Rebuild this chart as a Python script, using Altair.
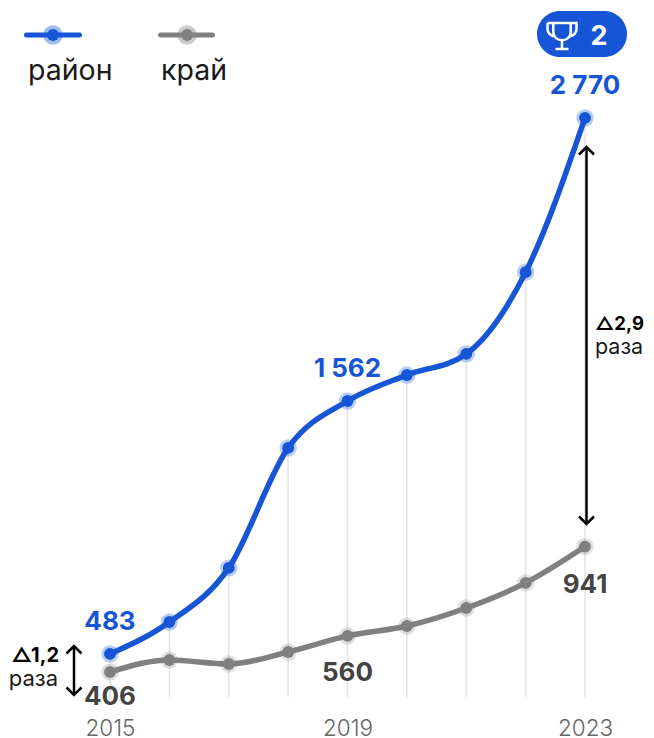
import altair as alt
import pandas as pd

years = [2015, 2016, 2017, 2018, 2019, 2020, 2021, 2022, 2023]
rayon = [483, 619, 850, 1362, 1562, 1673, 1763, 2112, 2770]
krai = [406, 457, 440, 491, 560, 602, 679, 786, 941]
tick_years = [2015, 2019, 2023]

BLUE = "#1655d6"
GRAY = "#808080"
DARK = "#444444"
FONT = "Inter"

W, H = 638, 697
x_scale = alt.Scale(domain=[2013.282, 2024.027], range=[0, W], nice=False, zero=False)
y_scale = alt.Scale(domain=[265, 3239], range=[H, 0], nice=False, zero=False)
x_axis = alt.Axis(values=tick_years, format="d", domain=False, ticks=False, grid=False,
                  title=None, labelFontSize=22.5, labelFontWeight=300, labelColor="#666666", labelFont=FONT,
                  labelPadding=12, labelFlush=False)
X = lambda f="year": alt.X(f"{f}:Q", scale=x_scale, axis=x_axis)
Y = lambda f="v": alt.Y(f"{f}:Q", scale=y_scale, axis=None)

df = pd.DataFrame({"year": years, "rayon": rayon, "krai": krai})

# drop lines
rules = alt.Chart(df.assign(base=299.5)).mark_rule(color="#e4e4e4", strokeWidth=1.5).encode(
    x=X(), y=Y("rayon"), y2="base:Q")


def series(field, color, halo_opacity):
    d = df.rename(columns={field: "v"})
    line = alt.Chart(d).mark_line(color=color, strokeWidth=5.5, interpolate="monotone").encode(x=X(), y=Y())
    halo = alt.Chart(d).mark_circle(color=color, opacity=halo_opacity, size=300).encode(x=X(), y=Y())
    dot = alt.Chart(d).mark_circle(color=color, opacity=1, size=140).encode(x=X(), y=Y())
    return halo + line + dot


def label(year, value, text, color, dy, dx=0, size=26):
    return alt.Chart(pd.DataFrame({"year": [year], "v": [value], "t": [text]})).mark_text(
        font=FONT, fontWeight=700, fontSize=size, color=color, dy=dy, dx=dx, align="center", baseline="middle"
    ).encode(x=X(), y=Y(), text="t:N")


labels = (
    label(2015, 483, "483", BLUE, -32)
    + label(2019, 1562, "1 562", BLUE, -32)
    + label(2023, 2770, "2 770", BLUE, -32)
    + label(2015, 406, "406", DARK, 25)
    + label(2019, 560, "560", DARK, 37)
    + label(2023, 941, "941", DARK, 38)
)


def arrow(x_px, y1, y2):
    up = "M-1,1L0,0L1,1"
    down = "M-1,-1L0,0L1,-1"
    base = alt.Chart(pd.DataFrame({"a": [0]}))
    shaft = base.mark_rule(color="black", strokeWidth=2.5).encode(
        x=alt.value(x_px - 8), y=alt.value(y1 - 8), y2=alt.value(y2 - 8))
    top = base.mark_point(shape=up, size=225, filled=False, stroke="black", strokeWidth=2.5, opacity=1).encode(
        x=alt.value(x_px - 8), y=alt.value(y1 - 8))
    bot = base.mark_point(shape=down, size=225, filled=False, stroke="black", strokeWidth=2.5, opacity=1).encode(
        x=alt.value(x_px - 8), y=alt.value(y2 - 8))
    return shaft + top + bot


def ptext(x_px, y_px, text, size, color="black", weight=400, align="center"):
    return alt.Chart(pd.DataFrame({"t": [text]})).mark_text(
        font=FONT, fontSize=size, fontWeight=weight, color=color, align=align, baseline="alphabetic"
    ).encode(x=alt.value(x_px - 8), y=alt.value(y_px - 8), text="t:N")


def legend_item(x1, x2, cx, tx, text, color):
    base = alt.Chart(pd.DataFrame({"a": [0]}))
    return (
        base.mark_rule(color=color, strokeWidth=5, strokeCap="round").encode(
            x=alt.value(x1 - 8), x2=alt.value(x2 - 8), y=alt.value(27))
        + base.mark_circle(color=color, opacity=0.4, size=380).encode(x=alt.value(cx - 8), y=alt.value(27))
        + base.mark_circle(color=color, opacity=1, size=140).encode(x=alt.value(cx - 8), y=alt.value(27))
        + ptext(tx, 80, text, 28.5, "#1a1a1a", weight=400, align="left")
    )


TROPHY = ("M-0.6,-0.9L-0.6,-0.3C-0.6,0.1 -0.3,0.3 0,0.3C0.3,0.3 0.6,0.1 0.6,-0.3L0.6,-0.9"
          "M-1,-0.9L1,-0.9L1,-0.5C1,-0.1 0.7,0 0.45,0.05"
          "M-1,-0.9L-1,-0.5C-1,-0.1 -0.7,0 -0.45,0.05"
          "M0,0.3L0,0.9M-0.45,0.9L0.45,0.9")
base = alt.Chart(pd.DataFrame({"a": [0]}))
badge = (
    base.mark_rect(color=BLUE, cornerRadius=23).encode(
        x=alt.value(537 - 8), x2=alt.value(627 - 8), y=alt.value(11 - 8), y2=alt.value(57 - 8))
    + base.mark_point(shape=TROPHY, size=841, filled=False, stroke="white", strokeWidth=2.5, opacity=1).encode(
        x=alt.value(562 - 8), y=alt.value(36 - 8))
    + ptext(599, 45, "2", 27, "white", 700)
)

chart = alt.layer(
    rules,
    series("krai", GRAY, 0.25),
    series("rayon", BLUE, 0.3),
    labels,
    arrow(586.5, 147, 524),
    arrow(74, 646, 695),
    ptext(595, 330, "△2,9", 18.5, "black", 700, "left"),
    ptext(595, 354, "раза", 21.5, "#1a1a1a", 400, "left"),
    ptext(59, 662, "△1,2", 20, "black", 700, "right"),
    ptext(58, 686, "раза", 22, "#1a1a1a", 400, "right"),
    legend_item(26.5, 79.5, 53, 28, "район", BLUE),
    legend_item(160.5, 212.5, 187, 161, "край", GRAY),
    badge,
).properties(
    width=W, height=H,
    padding={"left": 0, "top": 0, "right": 0, "bottom": 33},
    autosize=alt.AutoSizeParams(type="none"),
).configure_view(stroke=None)

chart.save("out.html", embed_options={"renderer": "svg", "actions": False})
